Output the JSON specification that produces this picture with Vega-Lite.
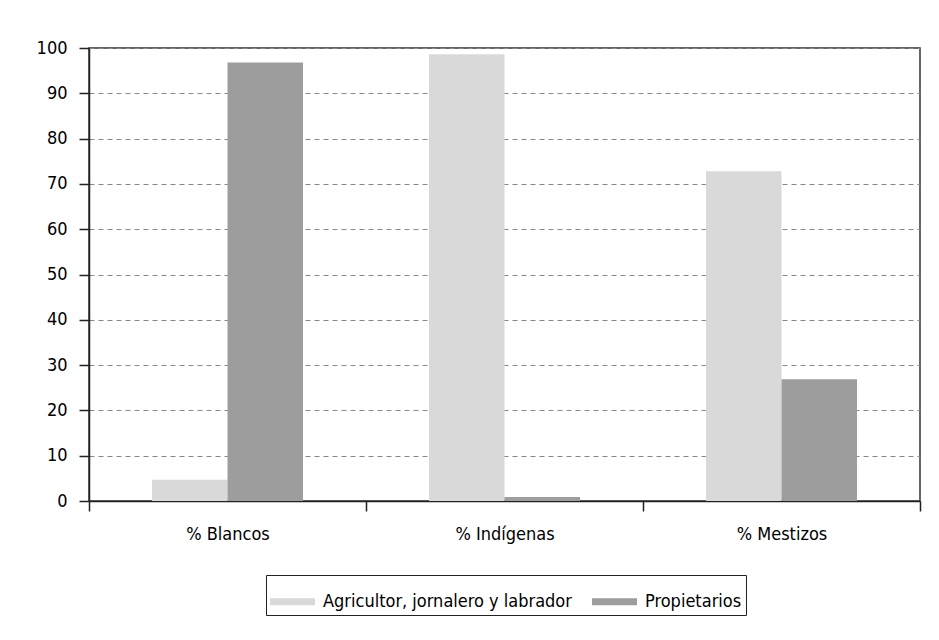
{
  "$schema": "https://vega.github.io/schema/vega-lite/v6.json",
  "width": 831,
  "height": 453,
  "autosize": {"type": "none"},
  "padding": {"left": 89, "top": 48, "right": 19, "bottom": 139},
  "background": "white",
  "config": {
    "font": "DejaVu Sans Condensed",
    "view": {"stroke": "#333", "strokeWidth": 1.5},
    "axis": {"labelFont": "DejaVu Sans Condensed", "labelFontSize": 18, "labelColor": "#000"},
    "legend": {"labelFont": "DejaVu Sans Condensed", "labelFontSize": 18, "labelColor": "#000"}
  },
  "data": {
    "values": [
      {"grupo": "% Blancos", "ocupacion": "Agricultor, jornalero y labrador", "valor": 4.7},
      {"grupo": "% Blancos", "ocupacion": "Propietarios", "valor": 96.8},
      {"grupo": "% Indígenas", "ocupacion": "Agricultor, jornalero y labrador", "valor": 98.6},
      {"grupo": "% Indígenas", "ocupacion": "Propietarios", "valor": 0.9},
      {"grupo": "% Mestizos", "ocupacion": "Agricultor, jornalero y labrador", "valor": 72.8},
      {"grupo": "% Mestizos", "ocupacion": "Propietarios", "valor": 26.9}
    ]
  },
  "mark": {"type": "bar"},
  "encoding": {
    "x": {
      "field": "grupo", "type": "nominal", "sort": null,
      "scale": {"paddingInner": 0, "paddingOuter": 0},
      "axis": {
        "title": null, "labelAngle": 0, "tickBand": "extent",
        "tickSize": 10, "tickColor": "#222", "tickWidth": 1.5,
        "domainColor": "#222", "domainWidth": 1.5,
        "labelPadding": 14
      }
    },
    "xOffset": {
      "field": "ocupacion", "type": "nominal",
      "scale": {"paddingInner": 0, "paddingOuter": 0.834}
    },
    "y": {
      "field": "valor", "type": "quantitative",
      "scale": {"domain": [0, 100], "nice": false},
      "axis": {
        "title": null, "values": [0, 10, 20, 30, 40, 50, 60, 70, 80, 90, 100],
        "tickSize": 10, "tickColor": "#222", "tickWidth": 1.5,
        "domainColor": "#222", "domainWidth": 1.5,
        "labelPadding": 12,
        "grid": true, "gridColor": "#888", "gridDash": [5, 4], "gridWidth": 1
      }
    },
    "color": {
      "field": "ocupacion", "type": "nominal",
      "scale": {"domain": ["Agricultor, jornalero y labrador", "Propietarios"], "range": ["#d9d9d9", "#9d9d9d"]},
      "legend": {
        "title": null, "orient": "none", "legendX": 177, "legendY": 527,
        "direction": "horizontal",
        "symbolType": "M-1,-0.16H1V0.16H-1Z", "symbolSize": 2025,
        "symbolStrokeWidth": 0, "symbolOpacity": 1,
        "labelOffset": 8, "columnPadding": 20, "labelLimit": 500,
        "strokeColor": "#222", "padding": 4
      }
    }
  }
}
